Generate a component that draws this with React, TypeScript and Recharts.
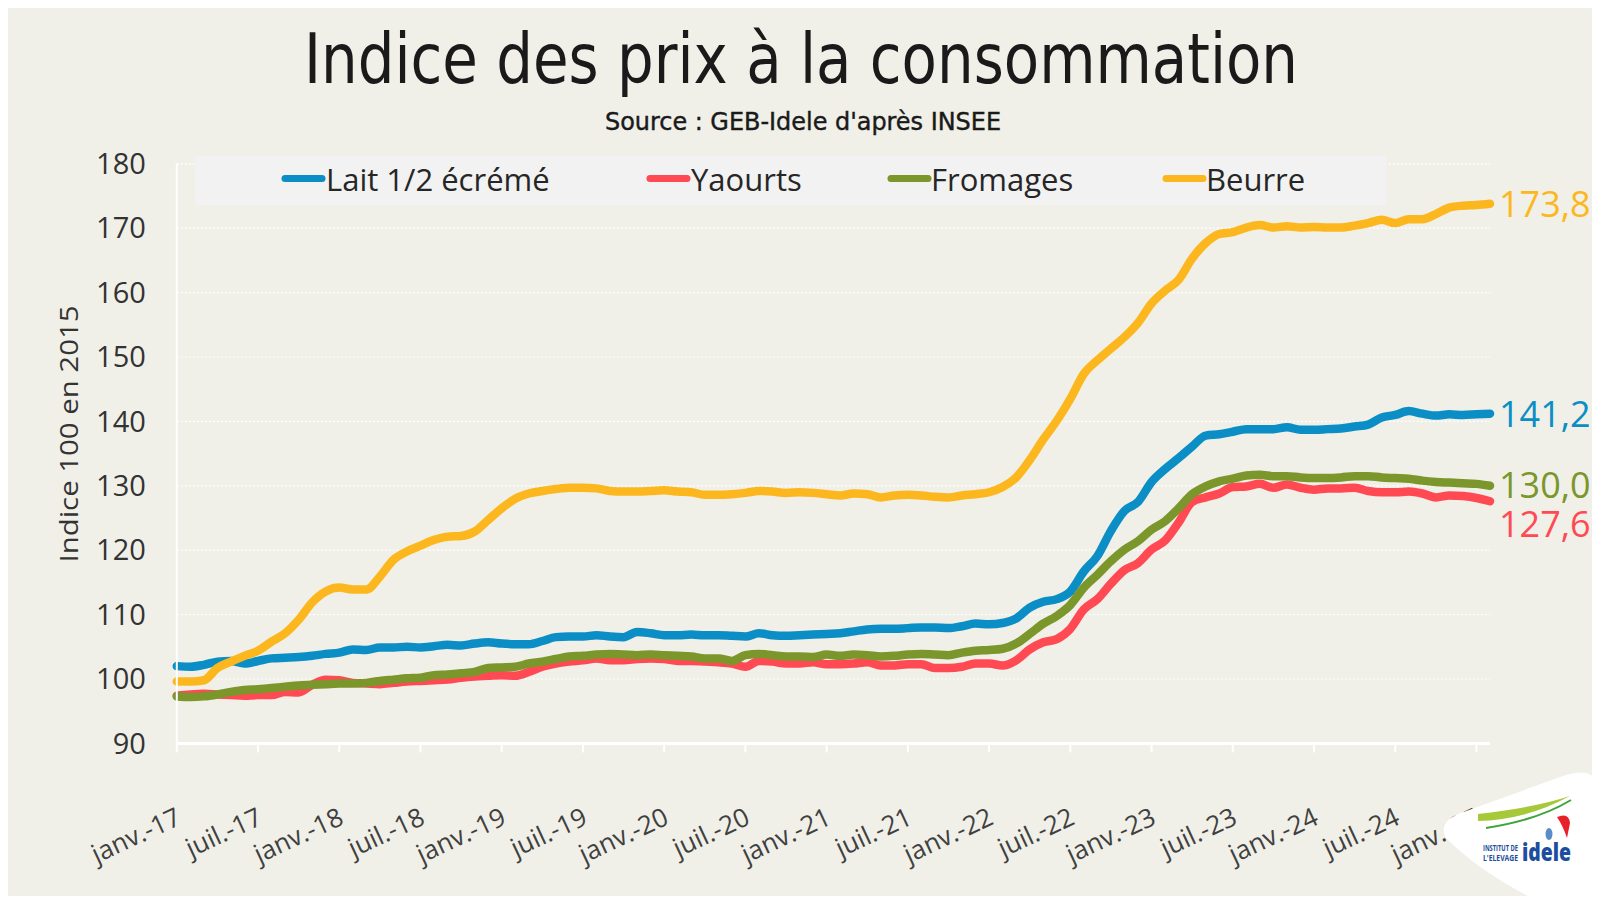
import React from 'react';
import { LineChart, Line, XAxis, YAxis, CartesianGrid } from 'recharts';

const MONTHS = ['janv.', 'févr.', 'mars', 'avr.', 'mai', 'juin', 'juil.', 'août', 'sept.', 'oct.', 'nov.', 'déc.'];
const YEARS = ['17', '18', '19', '20', '21', '22', '23', '24', '25'];
const CATEGORIES = YEARS.flatMap((y) => MONTHS.map((m) => `${m}-${y}`)).slice(0, 98);

const LAIT = [
  102.0, 101.9, 102.2, 102.7, 102.8, 102.4, 102.8, 103.2, 103.3, 103.4, 103.6, 103.9,
  104.1, 104.6, 104.5, 104.9, 104.9, 105.0, 104.9, 105.1, 105.3, 105.2, 105.5, 105.7,
  105.5, 105.4, 105.4, 105.9, 106.5, 106.6, 106.6, 106.8, 106.6, 106.5, 107.3, 107.1,
  106.8, 106.8, 106.9, 106.8, 106.8, 106.7, 106.6, 107.1, 106.8, 106.7, 106.8, 106.9,
  107.0, 107.1, 107.4, 107.7, 107.8, 107.8, 107.9, 108.0, 108.0, 107.9, 108.2, 108.6,
  108.5, 108.7, 109.4, 111.1, 112.0, 112.4, 113.6, 116.7, 119.1, 123.0, 126.1, 127.5,
  130.6, 132.6, 134.3, 136.1, 137.8, 138.0, 138.4, 138.8, 138.8, 138.8, 139.1, 138.7,
  138.7, 138.8, 138.9, 139.2, 139.5, 140.6, 141.0, 141.6, 141.2, 140.9, 141.1, 141.0,
  141.1, 141.2,
];

const YAOURTS = [
  97.4, 97.6, 97.7, 97.6, 97.5, 97.4, 97.5, 97.5, 98.0, 97.9, 99.1, 99.9,
  99.8, 99.4, 99.3, 99.2, 99.4, 99.6, 99.7, 99.8, 99.9, 100.2, 100.4, 100.5,
  100.6, 100.5, 101.1, 101.9, 102.4, 102.7, 102.9, 103.2, 102.9, 102.9, 103.1, 103.2,
  103.1, 102.8, 102.8, 102.7, 102.6, 102.4, 101.9, 102.8, 102.7, 102.4, 102.4, 102.6,
  102.3, 102.3, 102.4, 102.6, 102.1, 102.1, 102.3, 102.3, 101.7, 101.7, 101.9, 102.4,
  102.4, 102.1, 102.9, 104.6, 105.7, 106.2, 107.8, 110.8, 112.4, 114.8, 116.9, 118.0,
  120.1, 121.5, 124.3, 127.5, 128.2, 128.8, 129.8, 129.9, 130.3, 129.7, 130.2, 129.7,
  129.4, 129.6, 129.6, 129.7, 129.2, 129.0, 129.0, 129.1, 128.8, 128.2, 128.5, 128.4,
  128.1, 127.6,
];

const FROMAGES = [
  97.3, 97.2, 97.3, 97.6, 98.0, 98.3, 98.4, 98.6, 98.8, 99.0, 99.1, 99.2,
  99.3, 99.3, 99.4, 99.7, 99.9, 100.1, 100.2, 100.6, 100.7, 100.9, 101.1, 101.7,
  101.8, 101.9, 102.4, 102.7, 103.1, 103.5, 103.6, 103.8, 103.9, 103.8, 103.7, 103.8,
  103.7, 103.6, 103.5, 103.2, 103.2, 102.8, 103.7, 103.9, 103.7, 103.5, 103.5, 103.4,
  103.8, 103.6, 103.8, 103.7, 103.5, 103.6, 103.8, 103.9, 103.8, 103.7, 104.1, 104.4,
  104.5, 104.7, 105.5, 107.0, 108.6, 109.8, 111.5, 114.2, 116.2, 118.3, 120.1, 121.4,
  123.2, 124.5, 126.5, 128.7, 129.9, 130.7, 131.1, 131.6, 131.7, 131.5, 131.5, 131.3,
  131.2, 131.2, 131.3, 131.5, 131.5, 131.3, 131.2, 131.1, 130.8, 130.6, 130.5, 130.4,
  130.3, 130.0,
];

const BEURRE = [
  99.6, 99.6, 99.8, 101.7, 102.7, 103.6, 104.4, 105.8, 107.1, 109.2, 111.9, 113.6,
  114.2, 113.9, 113.9, 115.9, 118.5, 119.8, 120.7, 121.6, 122.1, 122.2, 122.9, 124.7,
  126.5, 128.0, 128.8, 129.2, 129.5, 129.7, 129.7, 129.6, 129.2, 129.1, 129.1, 129.2,
  129.3, 129.1, 129.0, 128.6, 128.6, 128.7, 128.9, 129.2, 129.1, 128.9, 129.0, 128.9,
  128.7, 128.5, 128.8, 128.7, 128.2, 128.5, 128.6, 128.5, 128.3, 128.2, 128.5, 128.7,
  129.0, 129.8, 131.3, 134.0, 137.2, 140.1, 143.5, 147.4, 149.5, 151.3, 153.1, 155.3,
  158.3, 160.3, 162.0, 165.3, 167.7, 169.1, 169.4, 170.1, 170.5, 170.1, 170.3, 170.1,
  170.2, 170.1, 170.1, 170.4, 170.8, 171.3, 170.8, 171.4, 171.4, 172.2, 173.2, 173.5,
  173.6, 173.8,
];

const Y_TICKS = [90, 100, 110, 120, 130, 140, 150, 160, 170, 180];

const SERIES = [
  { key: 'lait', name: 'Lait 1/2 écrémé', color: '#0B8EC5', values: LAIT },
  { key: 'yaourts', name: 'Yaourts', color: '#FF4A54', values: YAOURTS },
  { key: 'fromages', name: 'Fromages', color: '#7B962B', values: FROMAGES },
  { key: 'beurre', name: 'Beurre', color: '#FDB71E', values: BEURRE },
];

const DATA = CATEGORIES.map((c, i) => {
  const row: Record<string, string | number> = { month: c };
  SERIES.forEach((s) => {
    row[s.key] = s.values[i];
  });
  return row;
});

const FONT = '"Open Sans", Lato, sans-serif';
const NARROW = '"Liberation Sans Narrow", "DejaVu Sans Condensed", "Open Sans", sans-serif';
const BG = '#F0F0E8';

const fmt = (v: number) => v.toFixed(1).replace('.', ',');

const XTick = (props: any) => {
  const { x, y, payload } = props;
  const ex = x + 6;
  const ey = y + 71;
  return (
    <text
      x={ex}
      y={ey}
      textAnchor="end"
      transform={`rotate(-25 ${ex} ${ey})`}
      fontFamily={FONT}
      fontSize={26}
      fill="#404040"
    >
      {payload.value}
    </text>
  );
};

const makeEndLabel = (color: string, dy: number) => (props: any) => {
  const { x, y, index, value } = props;
  if (index !== CATEGORIES.length - 1) return null;
  return (
    <text
      x={x + 9}
      y={y + dy}
      dominantBaseline="central"
      fontFamily={FONT}
      fontSize={36}
      fill={color}
    >
      {fmt(Number(value))}
    </text>
  );
};

const LABEL_DY: Record<string, number> = { lait: 0, yaourts: 22, fromages: -1, beurre: 0 };
const LEGEND_POS = [
  { line: 274, text: 318 },
  { line: 639, text: 683 },
  { line: 880, text: 923 },
  { line: 1155, text: 1198 },
];

export default function App() {
  return (
    <div style={{ position: 'relative', width: 1592, height: 888, background: BG, overflow: 'hidden' }}>
      <LineChart
        width={1592}
        height={888}
        data={DATA}
        margin={{ top: 155.8, right: 110, left: 0, bottom: 0 }}
      >
        <CartesianGrid vertical={false} stroke="#ffffff" strokeDasharray="2 2" strokeWidth={1.2} />
        <XAxis
          dataKey="month"
          interval={5}
          height={152.6}
          tickSize={9}
          tickMargin={0}
          tickLine={{ stroke: '#ffffff', strokeWidth: 2 }}
          axisLine={{ stroke: '#ffffff', strokeWidth: 3 }}
          tick={<XTick />}
        />
        <YAxis
          width={168.8}
          domain={[90, 180]}
          ticks={Y_TICKS}
          interval={0}
          tickSize={0}
          tickMargin={31}
          axisLine={{ stroke: '#ffffff', strokeWidth: 2 }}
          tickLine={false}
          tick={{ fontFamily: FONT, fontSize: 29, fill: '#333333' }}
        />
        {SERIES.map((s) => (
          <Line
            key={s.key}
            dataKey={s.key}
            name={s.name}
            type="monotone"
            stroke={s.color}
            strokeWidth={8.5}
            strokeLinejoin="round"
            strokeLinecap="round"
            dot={false}
            activeDot={false}
            isAnimationActive={false}
            label={makeEndLabel(s.color, LABEL_DY[s.key])}
          />
        ))}
      </LineChart>
      <svg
        width={1592}
        height={888}
        style={{ position: 'absolute', left: 0, top: 0, pointerEvents: 'none' }}
      >
        <text
          x={793}
          y={75}
          textAnchor="middle"
          fontFamily={NARROW}
          fontSize={70}
          fill="#1a1a1a"
          textLength={994}
          lengthAdjust="spacingAndGlyphs"
        >
          Indice des prix à la consommation
        </text>
        <text
          x={795}
          y={122}
          textAnchor="middle"
          fontFamily={NARROW}
          fontSize={25}
          fontWeight={400}
          fill="#1a1a1a"
          stroke="#1a1a1a"
          strokeWidth={0.4}
          textLength={396}
          lengthAdjust="spacingAndGlyphs"
        >
          Source : GEB-Idele d'après INSEE
        </text>
        <text
          x={60}
          y={426}
          textAnchor="middle"
          dominantBaseline="central"
          transform="rotate(-90 60 426)"
          fontFamily={FONT}
          fontSize={26}
          fill="#333333"
          textLength={257}
          lengthAdjust="spacingAndGlyphs"
        >
          Indice 100 en 2015
        </text>
        <rect x={187.5} y={148} width={1191} height={49} fill="#F2F2F2" />
        {SERIES.map((s, i) => (
          <g key={s.key}>
            <line
              x1={LEGEND_POS[i].line + 3}
              x2={LEGEND_POS[i].line + 40}
              y1={170.6}
              y2={170.6}
              stroke={s.color}
              strokeWidth={7}
              strokeLinecap="round"
            />
            <text
              x={LEGEND_POS[i].text}
              y={170.6}
              dominantBaseline="central"
              fontFamily={FONT}
              fontSize={31}
              fill="#262626"
            >
              {s.name}
            </text>
          </g>
        ))}
        <path
          d="M 1438 830 Q 1430 815 1450 806 L 1555 768 Q 1592 755 1592 790 L 1592 888 L 1520 888 Q 1470 862 1438 830 Z"
          fill="#ffffff"
        />
        <path d="M 1470 813 Q 1518 812 1562 788 Q 1525 800 1470 806 Z" fill="#A6C93A" />
        <path d="M 1478 820 Q 1530 812 1563 792" stroke="#3DA535" strokeWidth={2} fill="none" />
        <path d="M 1549 809 Q 1561 804 1562 815 L 1559 830 Q 1555 818 1549 809 Z" fill="#E8202A" />
        <ellipse cx={1541} cy={826} rx={3.5} ry={6} fill="#5B8CC8" />
        <text x={1475} y={843} fontFamily={FONT} fontSize={8} fontWeight={700} fill="#1D4E9E" textLength={35} lengthAdjust="spacingAndGlyphs">INSTITUT DE</text>
        <text x={1475} y={853} fontFamily={FONT} fontSize={8} fontWeight={700} fill="#1D4E9E" textLength={35} lengthAdjust="spacingAndGlyphs">L'ELEVAGE</text>
        <text x={1514} y={853} fontFamily={FONT} fontSize={24} fontWeight={800} fill="#1D4E9E" textLength={49} lengthAdjust="spacingAndGlyphs">idele</text>
      </svg>
    </div>
  );
}
